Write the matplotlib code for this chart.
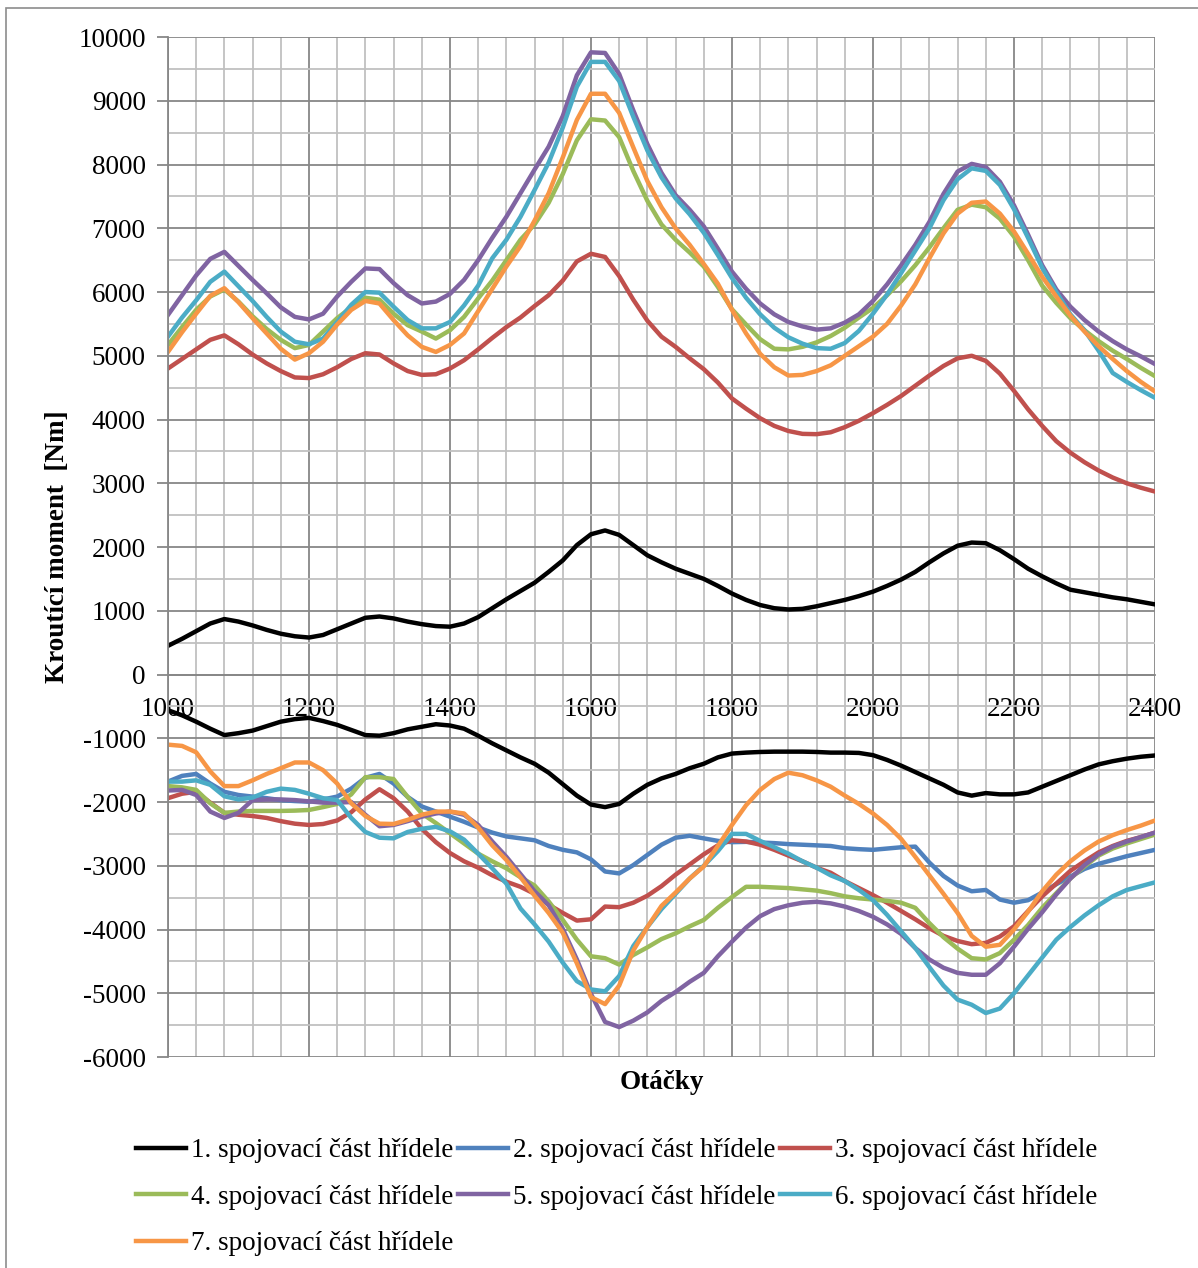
import matplotlib
matplotlib.use("Agg")
import matplotlib.pyplot as plt
import numpy as np
from matplotlib.patches import Rectangle
from matplotlib.ticker import MultipleLocator

plt.rcParams['font.family'] = ['Liberation Serif', 'DejaVu Serif']
plt.rcParams['axes.unicode_minus'] = False

# otáčky 1000..2400 po 20
rpm = np.arange(1000, 2401, 20)

labels = ["1. spojovací část hřídele", "2. spojovací část hřídele",
          "3. spojovací část hřídele", "4. spojovací část hřídele",
          "5. spojovací část hřídele", "6. spojovací část hřídele",
          "7. spojovací část hřídele"]
colors = ['#000000', '#4F81BD', '#C0504D', '#9BBB59', '#8064A2', '#4BACC6', '#F79646']

# maxima krouticího momentu [Nm]
max1 = [450, 560, 680, 800, 870, 830, 770, 700, 640, 600, 580, 620, 710, 800, 890, 910,
        880, 830, 790, 760, 750, 800, 900, 1040, 1180, 1310, 1440, 1610, 1790, 2030, 2200,
        2260, 2190, 2030, 1870, 1760, 1660, 1580, 1500, 1390, 1270, 1170, 1090, 1040, 1020,
        1030, 1070, 1120, 1170, 1230, 1300, 1390, 1490, 1610, 1760, 1900, 2020, 2070, 2060,
        1950, 1810, 1660, 1540, 1430, 1330, 1290, 1250, 1210, 1180, 1140, 1100]
max3 = [4800, 4950, 5100, 5250, 5320, 5180, 5020, 4880, 4760, 4660, 4650, 4710, 4820, 4950,
        5040, 5020, 4880, 4760, 4700, 4710, 4800, 4930, 5100, 5280, 5450, 5600, 5780, 5950,
        6180, 6480, 6600, 6550, 6250, 5880, 5550, 5300, 5140, 4960, 4790, 4580, 4330, 4170,
        4020, 3900, 3820, 3775, 3770, 3800, 3880, 3980, 4100, 4230, 4370, 4530, 4690, 4840,
        4960, 5000, 4920, 4720, 4450, 4160, 3900, 3660, 3480, 3330, 3200, 3090, 3000, 2930,
        2870]
max4 = [5170, 5450, 5720, 5930, 6040, 5850, 5620, 5420, 5250, 5120, 5170, 5380, 5590, 5760,
        5910, 5880, 5660, 5480, 5380, 5270, 5400, 5610, 5900, 6180, 6500, 6820, 7060, 7400,
        7850, 8380, 8710, 8690, 8430, 7900, 7430, 7060, 6820, 6620, 6400, 6080, 5730, 5490,
        5260, 5110, 5100, 5140, 5210, 5310, 5440, 5600, 5750, 5950, 6170, 6420, 6700, 7000,
        7290, 7370, 7330, 7150, 6870, 6500, 6100, 5830, 5590, 5400, 5230, 5080, 4950, 4810,
        4680]
max5 = [5640, 5950, 6260, 6520, 6630, 6410, 6190, 5980, 5760, 5610, 5570, 5660, 5930, 6160,
        6370, 6360, 6140, 5950, 5820, 5850, 5970, 6190, 6500, 6850, 7180, 7550, 7920, 8280,
        8760, 9400, 9760, 9750, 9420, 8850, 8320, 7870, 7520, 7290, 7030, 6680, 6320, 6050,
        5820, 5650, 5530, 5460, 5410, 5430, 5520, 5650, 5860, 6120, 6420, 6740, 7100, 7540,
        7890, 8010, 7960, 7730, 7360, 6900, 6420, 6040, 5770, 5560, 5380, 5230, 5100, 4990,
        4870]
max6 = [5300, 5600, 5870, 6160, 6320, 6090, 5860, 5610, 5380, 5220, 5180, 5270, 5530, 5800,
        6000, 5990, 5770, 5560, 5430, 5430, 5530, 5790, 6100, 6530, 6820, 7180, 7600, 8030,
        8580, 9220, 9610, 9610, 9310, 8750, 8220, 7800, 7470, 7220, 6930, 6580, 6220, 5910,
        5650, 5440, 5290, 5190, 5120, 5110, 5200, 5390, 5660, 5960, 6300, 6650, 7000, 7440,
        7770, 7940, 7900, 7680, 7300, 6850, 6380, 6000, 5650, 5400, 5080, 4730, 4590, 4460,
        4340]
max7 = [5060, 5370, 5660, 5940, 6060, 5840, 5590, 5350, 5110, 4940, 5040, 5220, 5490, 5720,
        5860, 5820, 5560, 5320, 5140, 5060, 5170, 5350, 5700, 6050, 6400, 6720, 7120, 7550,
        8110, 8700, 9110, 9110, 8810, 8270, 7740, 7330, 7000, 6740, 6440, 6130, 5720, 5350,
        5030, 4820, 4690, 4700, 4760, 4850, 5000, 5150, 5300, 5500, 5790, 6120, 6530, 6920,
        7230, 7400, 7420, 7230, 6950, 6600, 6240, 5930, 5630, 5380, 5150, 4950, 4760, 4590,
        4440]

# minima krouticího momentu [Nm]
min1 = [-560, -640, -740, -850, -950, -920, -880, -810, -740, -700, -680, -730, -790, -870,
        -950, -960, -920, -860, -820, -780, -800, -850, -960, -1080, -1190, -1300, -1400,
        -1540, -1720, -1900, -2040, -2080, -2030, -1870, -1730, -1630, -1560, -1470, -1400,
        -1300, -1240, -1225, -1215, -1210, -1210, -1210, -1215, -1225, -1225, -1230, -1265,
        -1340, -1430, -1530, -1630, -1730, -1850, -1900, -1860, -1880, -1880, -1850, -1760,
        -1670, -1580, -1490, -1410, -1360, -1320, -1290, -1270]
min2 = [-1680, -1590, -1560, -1710, -1840, -1890, -1915, -1940, -1970, -1985, -1995, -1960,
        -1915, -1790, -1620, -1560, -1710, -1920, -2070, -2150, -2230, -2310, -2400, -2480,
        -2540, -2570, -2600, -2690, -2750, -2790, -2900, -3090, -3120, -2990, -2830, -2670,
        -2560, -2530, -2570, -2610, -2630, -2625, -2635, -2645, -2660, -2670, -2680, -2690,
        -2725, -2740, -2750, -2730, -2710, -2700, -2950, -3160, -3310, -3400, -3380, -3530,
        -3580, -3540, -3420, -3290, -3170, -3050, -2970, -2910, -2850, -2800, -2750]
min3 = [-1940, -1870, -1840, -2010, -2170, -2200, -2220, -2250, -2300, -2340, -2360, -2345,
        -2290, -2160, -1960, -1800, -1940, -2150, -2420, -2630, -2800, -2930, -3030, -3150,
        -3250, -3330, -3440, -3610, -3740, -3860, -3840, -3640, -3650, -3580, -3470, -3320,
        -3140, -2980, -2820, -2680, -2600, -2620, -2670, -2750, -2840, -2930, -3030, -3110,
        -3240, -3350, -3460, -3580, -3710, -3840, -3980, -4100, -4180, -4230, -4210, -4110,
        -3950, -3710, -3480, -3280, -3080, -2930, -2790, -2690, -2610, -2550, -2480]
min4 = [-1750, -1770, -1810, -2020, -2170, -2150, -2140, -2140, -2140, -2135, -2125, -2080,
        -2030, -1880, -1610, -1610, -1640, -1920, -2180, -2330, -2490, -2650, -2810, -2930,
        -3040, -3180, -3310, -3560, -3850, -4160, -4420, -4450, -4550, -4400, -4280, -4150,
        -4060, -3950, -3850, -3660, -3490, -3330, -3330, -3340, -3350, -3370, -3390, -3430,
        -3480, -3510, -3530, -3550, -3580, -3660, -3900, -4120, -4300, -4450, -4470, -4370,
        -4160, -3930, -3660, -3430, -3200, -3010, -2840, -2730, -2650, -2580, -2510]
min5 = [-1820, -1810, -1890, -2150, -2250, -2170, -1970, -1960, -1960, -1970, -1990, -2010,
        -2010, -2000, -2200, -2380, -2360, -2300, -2230, -2180, -2150, -2200, -2360, -2620,
        -2860, -3130, -3400, -3620, -3990, -4470, -5010, -5450, -5530, -5430, -5300, -5120,
        -4980, -4820, -4680, -4420, -4190, -3970, -3790, -3680, -3620, -3580, -3565, -3590,
        -3640, -3710, -3800, -3920, -4070, -4290, -4470, -4600, -4680, -4710, -4710, -4530,
        -4270, -3990, -3730, -3450, -3200, -2990, -2820, -2700, -2620, -2550, -2480]
min6 = [-1680, -1680, -1660, -1730, -1910, -1960, -1930, -1840, -1790, -1810, -1870, -1940,
        -1970, -2250, -2470, -2560, -2570, -2470, -2420, -2390, -2460, -2590, -2810, -3040,
        -3280, -3670, -3920, -4190, -4520, -4810, -4940, -4970, -4730, -4260, -3960, -3680,
        -3440, -3200, -3000, -2770, -2500, -2500, -2610, -2710, -2810, -2930, -3030, -3150,
        -3240, -3380, -3540, -3770, -4030, -4290, -4590, -4880, -5100, -5180, -5310, -5240,
        -5000, -4720, -4440, -4160, -3960, -3780, -3620, -3480, -3380, -3320, -3260]
min7 = [-1100, -1120, -1220, -1520, -1750, -1750, -1660, -1560, -1470, -1380, -1380, -1500,
        -1710, -2020, -2220, -2340, -2345, -2280, -2200, -2150, -2150, -2180, -2400, -2680,
        -2910, -3180, -3470, -3740, -4050, -4530, -5060, -5170, -4880, -4330, -3960, -3630,
        -3420, -3200, -3010, -2690, -2360, -2050, -1810, -1640, -1540, -1580, -1660, -1760,
        -1900, -2030, -2180, -2360, -2580, -2860, -3150, -3440, -3740, -4100, -4270, -4240,
        -4000, -3720, -3400, -3140, -2930, -2760, -2620, -2520, -2440, -2370, -2290]

# 2. část má v grafu jen zápornou větev
maxima = [max1, None, max3, max4, max5, max6, max7]
minima = [min1, min2, min3, min4, min5, min6, min7]

FS = 19.5

fig = plt.figure(figsize=(11.98, 12.68), dpi=100)
ax = fig.add_axes([0.1402, 0.1664, 0.8239, 0.8044])

# rámeček kolem celého grafu
fig.patches.append(Rectangle((6 / 1198, -0.01), 1.1, 1 - 8 / 1268 + 0.01,
                             transform=fig.transFigure, fill=False,
                             edgecolor='#8c8c8c', linewidth=1.2))

handles = []
for i in range(7):
    h = None
    if maxima[i] is not None:
        h, = ax.plot(rpm, maxima[i], color=colors[i], lw=3.2)
    h2, = ax.plot(rpm, minima[i], color=colors[i], lw=3.2)
    handles.append(h if h is not None else h2)

ax.set_xlim(1000, 2400)
ax.set_ylim(-6000, 10000)
ax.xaxis.set_major_locator(MultipleLocator(200))
ax.xaxis.set_minor_locator(MultipleLocator(40))
ax.yaxis.set_major_locator(MultipleLocator(1000))
ax.yaxis.set_minor_locator(MultipleLocator(500))
ax.grid(which='major', color='#878787', lw=1.3)
ax.grid(which='minor', color='#c0c0c0', lw=1.3)
ax.set_axisbelow(True)

for s in ['top', 'right']:
    ax.spines[s].set_visible(False)
ax.spines['left'].set_color('#878787')
ax.spines['left'].set_linewidth(1.3)
ax.spines['bottom'].set_position(('data', 0))
ax.spines['bottom'].set_color('#878787')
ax.spines['bottom'].set_linewidth(1.3)

ax.tick_params(axis='y', which='major', length=8, width=1.3, color='#878787',
               labelsize=FS, pad=8)
ax.tick_params(axis='x', which='major', length=0, labelsize=FS, pad=16)
ax.tick_params(which='minor', length=0)

ax.set_xlabel('Otáčky', fontsize=FS, fontweight='bold', labelpad=0)
ax.xaxis.set_label_coords(0.5, -0.013)
ax.set_ylabel('Kroutící moment  [Nm]', fontsize=FS, fontweight='bold')
ax.yaxis.set_label_coords(-0.099, 0.5)

# pořadí položek tak, aby legenda šla po řádcích
order = [0, 3, 6, 1, 4, 2, 5]
fig.legend([handles[k] for k in order], [labels[k] for k in order],
           ncol=3, loc='upper left', bbox_to_anchor=(0.093, 0.1215),
           frameon=False, fontsize=FS, handlelength=1.85, handletextpad=0.2,
           columnspacing=0.15, labelspacing=0.79)

fig.savefig('out.png', dpi=100)
